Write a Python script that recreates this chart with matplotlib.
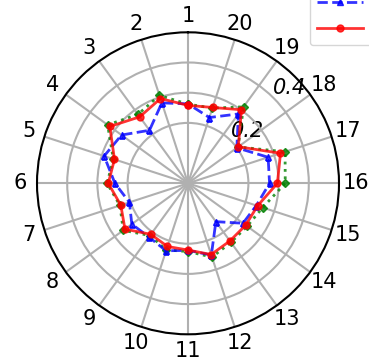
import matplotlib
matplotlib.use("Agg")
import matplotlib.pyplot as plt
import numpy as np

# valores (raio por categoria 1..20)
categorias = [str(i) for i in range(1, 21)]
serie_verde = [0.262, 0.306, 0.282, 0.329, 0.260, 0.268, 0.237, 0.265, 0.214, 0.232,
               0.226, 0.257, 0.242, 0.242, 0.260, 0.322, 0.338, 0.205, 0.313, 0.262]
serie_azul = [0.263, 0.280, 0.217, 0.272, 0.292, 0.242, 0.204, 0.230, 0.220, 0.235,
              0.222, 0.250, 0.157, 0.225, 0.238, 0.270, 0.279, 0.200, 0.284, 0.229]
serie_vermelha = [0.258, 0.295, 0.272, 0.320, 0.256, 0.264, 0.234, 0.258, 0.209, 0.220,
                  0.221, 0.248, 0.236, 0.236, 0.242, 0.296, 0.322, 0.206, 0.301, 0.264]
rticks = [0.2, 0.3, 0.4]
rtick_labels = ["0.2", "", "0.4"]


def fechar(v):
    return list(v) + [v[0]]


W, H = 369, 357
fig = plt.figure(figsize=(W / 100, H / 100), dpi=100)
cx, cy, R = 188, 183.3, 151
ax = fig.add_axes([(cx - R) / W, (H - cy - R) / H, 2 * R / W, 2 * R / H], projection="polar")
ax.set_theta_zero_location("N")
ax.set_theta_direction(1)

ang = np.deg2rad(np.arange(len(categorias)) * 360 / len(categorias))
ang_c = fechar(ang)

ax.plot(ang_c, fechar(serie_verde), ":", color="g", marker="D", ms=4.5, lw=2, alpha=0.8, label="Série 1")
ax.plot(ang_c, fechar(serie_azul), "--", color="b", marker="^", ms=5, lw=2, alpha=0.8, label="Série 2")
ax.plot(ang_c, fechar(serie_vermelha), "-", color="r", marker="o", ms=5, lw=2, alpha=0.8, label="Série 3")

ax.set_xticks(ang)
ax.set_xticklabels(categorias, fontsize=15)
ax.tick_params(axis="x", pad=1.5)
ax.set_ylim(0, 0.5)
ax.set_yticks(rticks)
ax.set_yticklabels(rtick_labels, fontsize=15, fontstyle="italic")
ax.set_rlabel_position(315)
ax.grid(True, color="#b0b0b0", lw=1.5)
ax.spines["polar"].set_linewidth(1.5)

fig.legend(loc="lower left", bbox_to_anchor=(310 / W, (H - 45) / H), fontsize=12,
           handlelength=2.8, borderaxespad=0)

fig.savefig("out.png", dpi=100)
